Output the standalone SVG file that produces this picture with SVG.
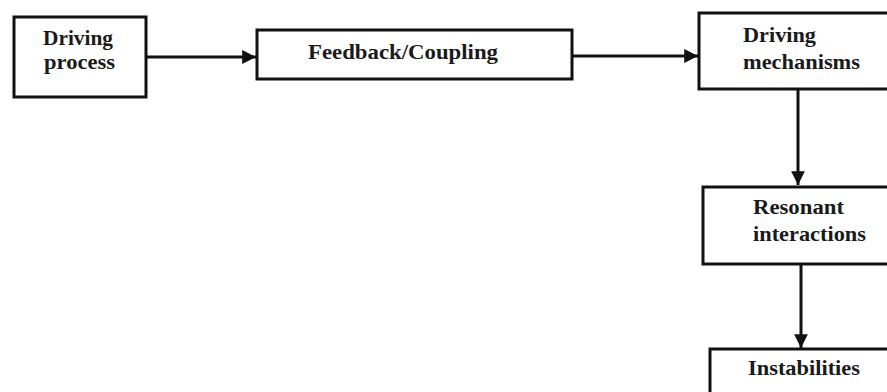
<svg xmlns="http://www.w3.org/2000/svg" width="887" height="392" viewBox="0 0 887 392">
  <style>
    .box { fill: #ffffff; stroke: #111111; stroke-width: 3; }
    .lbl { font-family: "Liberation Serif", "Times New Roman", serif; font-weight: bold; font-size: 22px; fill: #1a1a1a; }
    .conn { stroke: #111111; stroke-width: 3; fill: none; }
  </style>
  <defs>
    <marker id="arrow" viewBox="0 0 10 10" refX="10" refY="5" markerWidth="4.6" markerHeight="4.6" orient="auto" markerUnits="strokeWidth">
      <path d="M0,0 L10,5 L0,10 Z" fill="#111111"/>
    </marker>
  </defs>
  <rect width="887" height="392" fill="#ffffff"/>
  <g id="connectors">
    <line class="conn" x1="146" y1="57" x2="256" y2="57" marker-end="url(#arrow)"/>
    <line class="conn" x1="572" y1="56" x2="698" y2="56" marker-end="url(#arrow)"/>
    <line class="conn" x1="798" y1="89" x2="798" y2="185" marker-end="url(#arrow)"/>
    <line class="conn" x1="801" y1="264" x2="801" y2="348" marker-end="url(#arrow)"/>
  </g>
  <g id="driving-process">
    <rect class="box" x="14" y="17" width="132" height="80"/>
    <text class="lbl" x="43" y="45" textLength="70" lengthAdjust="spacingAndGlyphs">Driving</text>
    <text class="lbl" x="44" y="69" textLength="71" lengthAdjust="spacingAndGlyphs">process</text>
  </g>
  <g id="feedback-coupling">
    <rect class="box" x="257" y="30" width="315" height="49"/>
    <text class="lbl" x="308" y="59" textLength="190" lengthAdjust="spacingAndGlyphs">Feedback/Coupling</text>
  </g>
  <g id="driving-mechanisms">
    <rect class="box" x="699" y="13" width="200" height="76"/>
    <text class="lbl" x="743" y="42" textLength="73" lengthAdjust="spacingAndGlyphs">Driving</text>
    <text class="lbl" x="743" y="69" textLength="117" lengthAdjust="spacingAndGlyphs">mechanisms</text>
  </g>
  <g id="resonant-interactions">
    <rect class="box" x="703" y="187" width="200" height="77"/>
    <text class="lbl" x="753" y="214" textLength="91" lengthAdjust="spacingAndGlyphs">Resonant</text>
    <text class="lbl" x="753" y="241" textLength="113" lengthAdjust="spacingAndGlyphs">interactions</text>
  </g>
  <g id="instabilities">
    <rect class="box" x="710" y="349" width="200" height="60"/>
    <text class="lbl" x="748" y="375" textLength="112" lengthAdjust="spacingAndGlyphs">Instabilities</text>
  </g>
</svg>
